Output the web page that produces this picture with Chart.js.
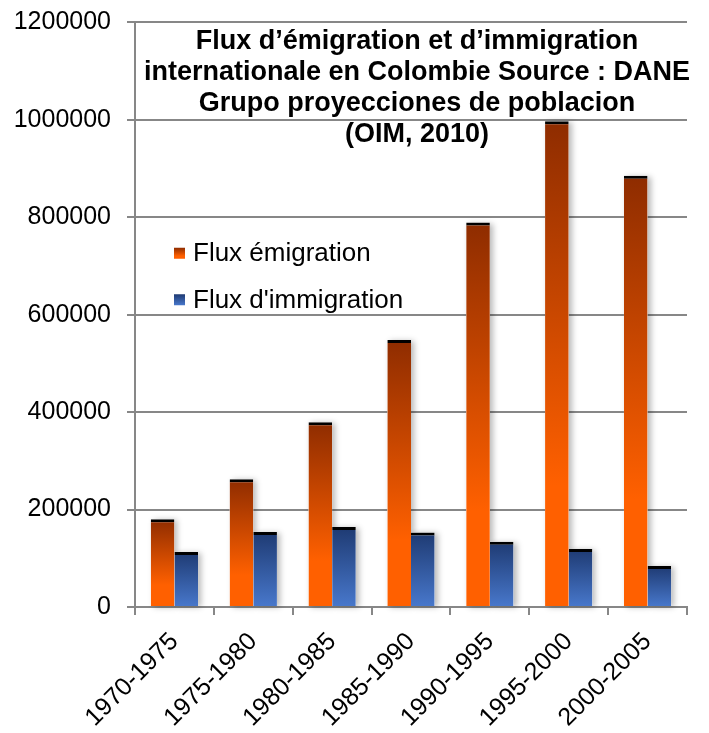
<!DOCTYPE html>
<html>
<head>
<meta charset="utf-8">
<script src="https://cdn.jsdelivr.net/npm/chart.js@4/dist/chart.umd.min.js"></script>
<style>
html,body{margin:0;padding:0;background:#fff}
#wrap{width:709px;height:733px;position:relative}
</style>
</head>
<body>
<div id="wrap"><canvas id="c"></canvas></div>
<script>
const categories = ['1970-1975','1975-1980','1980-1985','1985-1990','1990-1995','1995-2000','2000-2005'];
const emigration = [180000, 262000, 379000, 548000, 789000, 997000, 885000];
const immigration = [113000, 154000, 164000, 153000, 134000, 119000, 84000];
const yTicks = [0, 200000, 400000, 600000, 800000, 1000000, 1200000];
const seriesNames = ['Flux émigration', "Flux d'immigration"];
const titleLines = [
  'Flux d’émigration et d’immigration',
  'internationale en Colombie Source : DANE',
  'Grupo proyecciones de poblacion',
  '(OIM, 2010)'
];

const FONT = "'Liberation Sans', Arial, Helvetica, sans-serif";
const GRID = '#878787';
const ORANGE_STOPS = [[0, '#8E2C00'], [0.75, '#FF6000'], [1, '#FF6000']];
const BLUE_STOPS = [[0, '#1E3A72'], [1, '#4878CC']];

function makeGradient(ctx, top, bottom, stops) {
  const g = ctx.createLinearGradient(0, top, 0, bottom);
  stops.forEach(s => g.addColorStop(s[0], s[1]));
  return g;
}

function barFill(stops) {
  return function (c) {
    const chart = c.chart;
    if (c.type !== 'data' || !chart.chartArea || !chart.scales.y) return stops[stops.length - 1][1];
    const y = chart.scales.y;
    const top = y.getPixelForValue(c.raw);
    const base = y.getPixelForValue(0);
    if (!isFinite(top) || !isFinite(base) || base - top < 1) return stops[stops.length - 1][1];
    return makeGradient(chart.ctx, top, base, stops);
  };
}

const shadowPlugin = {
  id: 'barShadow',
  beforeDatasetsDraw(chart) {
    const ctx = chart.ctx;
    ctx.save();
    ctx.shadowColor = 'rgba(0,0,0,0.28)';
    ctx.shadowBlur = 6;
    ctx.shadowOffsetX = 3;
    ctx.shadowOffsetY = 1;
    ctx.fillStyle = '#ffffff';
    chart.data.datasets.forEach((ds, i) => {
      const meta = chart.getDatasetMeta(i);
      meta.data.forEach(el => {
        const p = el.getProps(['x', 'y', 'base', 'width'], true);
        ctx.fillRect(p.x - p.width / 2, p.y, p.width, p.base - p.y);
      });
    });
    ctx.restore();
  }
};

const overlayPlugin = {
  id: 'overlay',
  afterDraw(chart) {
    const ctx = chart.ctx;
    const a = chart.chartArea;
    ctx.save();
    // title
    ctx.fillStyle = '#000';
    ctx.font = 'bold 27px ' + FONT;
    ctx.textAlign = 'center';
    ctx.textBaseline = 'alphabetic';
    const cx = a.left + 282;
    titleLines.forEach((t, i) => ctx.fillText(t, cx, a.top + 27 + 31 * i));
    // legend
    const stopsList = [ORANGE_STOPS, BLUE_STOPS];
    ctx.font = '26px ' + FONT;
    ctx.textAlign = 'left';
    ctx.textBaseline = 'middle';
    chart.data.datasets.forEach((ds, i) => {
      const cy = a.top + 231 + 46.5 * i;
      const sx = a.left + 39, s = 11;
      ctx.fillStyle = makeGradient(ctx, cy - s / 2, cy + s / 2, stopsList[i]);
      ctx.fillRect(sx, cy - s / 2, s, s);
      ctx.fillStyle = '#000';
      ctx.fillText(ds.label, a.left + 58, cy + 1);
    });
    ctx.restore();
  }
};

new Chart(document.getElementById('c'), {
  type: 'bar',
  data: {
    labels: categories,
    datasets: [
      {
        label: seriesNames[0],
        data: emigration,
        backgroundColor: barFill(ORANGE_STOPS),
        borderColor: '#000',
        borderWidth: { top: 3, left: 0, right: 0, bottom: 0 },
        borderSkipped: 'bottom'
      },
      {
        label: seriesNames[1],
        data: immigration,
        backgroundColor: barFill(BLUE_STOPS),
        borderColor: '#000',
        borderWidth: { top: 3, left: 0, right: 0, bottom: 0 },
        borderSkipped: 'bottom'
      }
    ]
  },
  options: {
    responsive: true,
    maintainAspectRatio: false,
    animation: false,
    devicePixelRatio: 1,
    layout: { padding: { top: 20, right: 22, left: 0, bottom: 0 } },
    datasets: { bar: { categoryPercentage: 0.6, barPercentage: 1.0 } },
    plugins: {
      legend: { display: false },
      title: { display: false },
      tooltip: { enabled: false }
    },
    scales: {
      x: {
        grid: { display: true, drawOnChartArea: false, drawTicks: true, tickLength: 8, color: GRID, lineWidth: 2, offset: true },
        border: { display: true, color: GRID, width: 2 },
        ticks: { color: '#000', font: { family: FONT, size: 25 }, minRotation: 45, maxRotation: 45, autoSkip: false, padding: 12 },
        afterFit(s) { s.height = 126; }
      },
      y: {
        min: yTicks[0],
        max: yTicks[yTicks.length - 1],
        grid: { color: GRID, lineWidth: 2, drawTicks: true, tickLength: 8 },
        border: { display: true, color: GRID, width: 2 },
        ticks: {
          stepSize: yTicks[1] - yTicks[0],
          color: '#000',
          font: { family: FONT, size: 25, lineHeight: 0.5 },
          padding: 16,
          callback: v => String(v)
        },
        afterFit(s) { s.width = 135; }
      }
    }
  },
  plugins: [shadowPlugin, overlayPlugin]
});
</script>
</body>
</html>
